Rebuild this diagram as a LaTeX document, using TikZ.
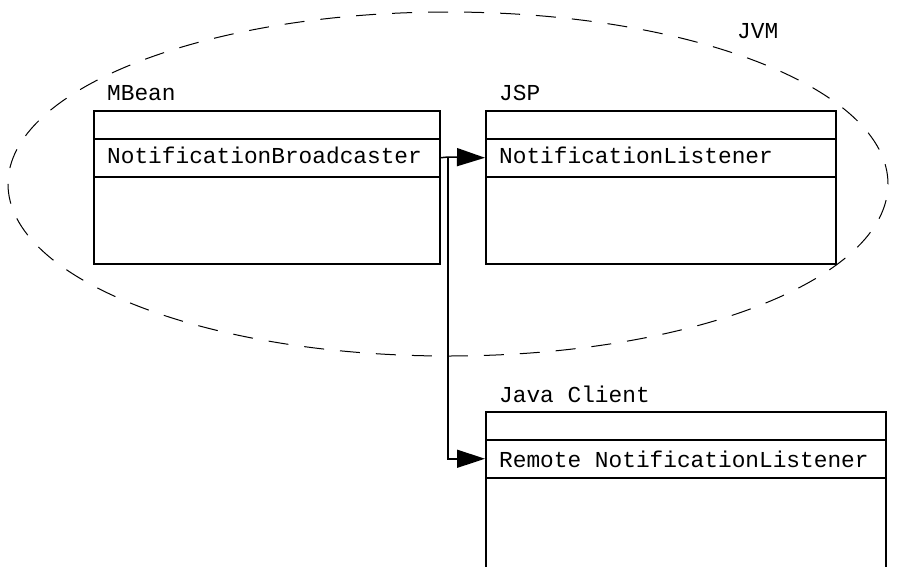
\documentclass[tikz,border=0pt]{standalone}
\usepackage{fontspec}
\setmonofont{Liberation Mono}
\usetikzlibrary{arrows.meta,shapes.geometric}
\begin{document}
\begin{tikzpicture}[x=1pt,y=-1pt,
  cell/.style={draw,line width=1.5pt,rectangle,inner sep=0pt,anchor=north west},
  lbl/.style={inner sep=0pt,anchor=base west,font=\ttfamily\fontsize{22.8}{27}\selectfont},
  conn/.style={line width=1.5pt},
  tip/.style={-{Triangle[length=28pt,width=18pt]}}
]
\clip (0,0) rectangle (903,566);
\fill[white] (0,0) rectangle (903,566);
% JVM boundary
\node[draw,dash pattern=on 20pt off 16pt,line width=1pt,ellipse,minimum width=880pt,minimum height=344pt,inner sep=0pt] (jvm) at (448,184) {};
\node[lbl] (jvmlbl) at (737,38) {JVM};
% MBean
\node[lbl] (mbeanlbl) at (107,100) {MBean};
\node[cell,minimum width=346pt,minimum height=28pt] (mbhead) at (93,110) {};
\node[cell,minimum width=346pt,minimum height=38pt] (mbmid) at (93,138) {};
\node[cell,minimum width=346pt,minimum height=87pt] (mbbody) at (93,176) {};
\node[lbl] (mbtxt) at (107,163) {NotificationBroadcaster};
% JSP
\node[lbl] (jsplbl) at (499,100) {JSP};
\node[cell,minimum width=350pt,minimum height=28pt] (jsphead) at (485,110) {};
\node[cell,minimum width=350pt,minimum height=38pt] (jspmid) at (485,138) {};
\node[cell,minimum width=350pt,minimum height=87pt] (jspbody) at (485,176) {};
\node[lbl] (jsptxt) at (499,163) {NotificationListener};
% Java Client
\node[lbl] (jclbl) at (499,402) {Java Client};
\node[cell,minimum width=400pt,minimum height=28pt] (jchead) at (485,411) {};
\node[cell,minimum width=400pt,minimum height=38pt] (jcmid) at (485,439) {};
\node[cell,minimum width=400pt,minimum height=120pt] (jcbody) at (485,477) {};
\node[lbl] (jctxt) at (499,467) {Remote NotificationListener};
% connectors
\coordinate (split) at (448,157);
\draw[conn] (mbmid.east) -- (split);
\draw[conn,tip] (split) -- (jspmid.west);
\draw[conn,tip] (split) |- (jcmid.west);
\end{tikzpicture}
\end{document}
